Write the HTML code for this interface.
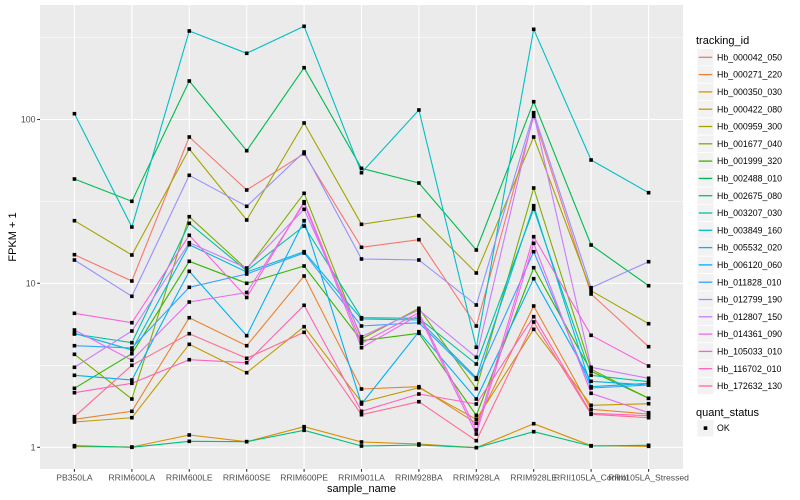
<!DOCTYPE html>
<html><head><meta charset="utf-8"><style>
html,body{margin:0;padding:0;background:#fff;}
svg{display:block;font-family:"Liberation Sans",Arial,sans-serif;}
</style></head><body>
<svg width="800" height="500" viewBox="0 0 800 500" xmlns="http://www.w3.org/2000/svg">
<defs>
<marker id="m" markerUnits="userSpaceOnUse" markerWidth="6" markerHeight="6" refX="3" refY="3" viewBox="0 0 6 6"><rect x="1.2" y="1.2" width="3.6" height="3.6" fill="#000"/></marker>
</defs>
<rect x="0" y="0" width="800" height="500" fill="#fff"/>
<rect x="40" y="5" width="643" height="464" fill="#EBEBEB"/>
<g stroke="#fff" stroke-width="0.55">
<line x1="40" x2="683" y1="37.6" y2="37.6"/><line x1="40" x2="683" y1="201.4" y2="201.4"/><line x1="40" x2="683" y1="365.3" y2="365.3"/>
</g>
<g stroke="#fff" stroke-width="1.1">
<line x1="40" x2="683" y1="119.5" y2="119.5"/><line x1="40" x2="683" y1="283.3" y2="283.3"/><line x1="40" x2="683" y1="447.3" y2="447.3"/>
<line x1="74.45" x2="74.45" y1="5" y2="469"/><line x1="131.86" x2="131.86" y1="5" y2="469"/><line x1="189.27" x2="189.27" y1="5" y2="469"/><line x1="246.7" x2="246.7" y1="5" y2="469"/><line x1="304.1" x2="304.1" y1="5" y2="469"/><line x1="361.5" x2="361.5" y1="5" y2="469"/><line x1="418.9" x2="418.9" y1="5" y2="469"/><line x1="476.3" x2="476.3" y1="5" y2="469"/><line x1="533.7" x2="533.7" y1="5" y2="469"/><line x1="591.1" x2="591.1" y1="5" y2="469"/><line x1="648.6" x2="648.6" y1="5" y2="469"/>
</g>
<g fill="none" stroke-width="1.1" stroke-linejoin="round" id="series">
<polyline stroke="#F8766D" points="74.45,254.7 131.86,281 189.27,137 246.7,190 304.1,153.7 361.5,247.3 418.9,239.7 476.3,326 533.7,116.3 591.1,294 648.6,346.7"/>
<polyline stroke="#EA8331" points="74.45,419.3 131.86,411.3 189.27,317.7 246.7,345.7 304.1,276 361.5,389 418.9,386.7 476.3,423.3 533.7,306 591.1,409.3 648.6,414"/>
<polyline stroke="#D89000" points="74.45,446.7 131.86,447 189.27,435 246.7,441.7 304.1,426.7 361.5,442 418.9,444 476.3,447.7 533.7,423.7 591.1,445.7 648.6,446.3"/>
<polyline stroke="#C09B00" points="74.45,422 131.86,417.7 189.27,344.3 246.7,372.7 304.1,326.7 361.5,402.3 418.9,387.7 476.3,419.3 533.7,329.3 591.1,405.3 648.6,403.7"/>
<polyline stroke="#A3A500" points="74.45,220.7 131.86,255 189.27,149 246.7,220 304.1,123 361.5,224.3 418.9,215.7 476.3,273 533.7,137 591.1,290.7 648.6,323.7"/>
<polyline stroke="#7CAE00" points="74.45,354.3 131.86,399 189.27,216.7 246.7,269.3 304.1,193.3 361.5,339 418.9,308.3 476.3,388.7 533.7,188 591.1,369.3 648.6,398.3"/>
<polyline stroke="#39B600" points="74.45,388.3 131.86,353.7 189.27,261.3 246.7,283.3 304.1,266 361.5,340.7 418.9,333.3 476.3,415.3 533.7,267.7 591.1,371.3 648.6,398.3"/>
<polyline stroke="#00BB4E" points="74.45,179 131.86,201.3 189.27,81 246.7,150.7 304.1,67.7 361.5,168.3 418.9,183 476.3,250 533.7,101.7 591.1,245 648.6,285.7"/>
<polyline stroke="#00BF7D" points="74.45,445.7 131.86,447.3 189.27,441.3 246.7,441.7 304.1,430.3 361.5,446 418.9,445 476.3,447.7 533.7,431.7 591.1,446 648.6,445.3"/>
<polyline stroke="#00C1A3" points="74.45,334 131.86,342.7 189.27,223.3 246.7,270.7 304.1,226 361.5,317.7 418.9,318.3 476.3,364 533.7,209 591.1,375.3 648.6,381.7"/>
<polyline stroke="#00BFC4" points="74.45,113.7 131.86,227 189.27,31 246.7,53.3 304.1,26.3 361.5,172.7 418.9,110 476.3,347.3 533.7,29.3 591.1,160 648.6,192.7"/>
<polyline stroke="#00BAE0" points="74.45,333.3 131.86,350 189.27,244.7 246.7,272 304.1,251.7 361.5,319 418.9,320 476.3,377.7 533.7,205.7 591.1,386.7 648.6,383.3"/>
<polyline stroke="#00B0F6" points="74.45,375.3 131.86,380 189.27,271.3 246.7,335.7 304.1,220.7 361.5,404 418.9,331.7 476.3,399 533.7,278.7 591.1,381.3 648.6,385"/>
<polyline stroke="#35A2FF" points="74.45,345.7 131.86,348 189.27,287.3 246.7,274 304.1,253 361.5,326 418.9,322.7 476.3,379.3 533.7,251.7 591.1,388 648.6,385"/>
<polyline stroke="#9590FF" points="74.45,260 131.86,296.3 189.27,175.3 246.7,206.3 304.1,152 361.5,259 418.9,260 476.3,305 533.7,112.7 591.1,287.7 648.6,261.7"/>
<polyline stroke="#C77CFF" points="74.45,367.3 131.86,331 189.27,242.7 246.7,268 304.1,209.3 361.5,336.7 418.9,310 476.3,357.3 533.7,114 591.1,367.3 648.6,378.3"/>
<polyline stroke="#E76BF3" points="74.45,330 131.86,360.3 189.27,302 246.7,292.5 304.1,203.3 361.5,347.7 418.9,315 476.3,434 533.7,243.3 591.1,393.3 648.6,412.7"/>
<polyline stroke="#FA62DB" points="74.45,313.3 131.86,322.7 189.27,235.3 246.7,297.5 304.1,201.7 361.5,343.3 418.9,312.7 476.3,430 533.7,236.7 591.1,335.3 648.6,366"/>
<polyline stroke="#FF62BC" points="74.45,392.7 131.86,383.3 189.27,359.7 246.7,362.7 304.1,305.3 361.5,411.3 418.9,394 476.3,404 533.7,316.7 591.1,413.3 648.6,415.7"/>
<polyline stroke="#FF6C91" points="74.45,416.7 131.86,365.3 189.27,333.7 246.7,358.3 304.1,332.3 361.5,414.7 418.9,401.7 476.3,440.7 533.7,322 591.1,414.3 648.6,417.7"/>
</g>
<g fill="none" stroke="none" marker-start="url(#m)" marker-mid="url(#m)" marker-end="url(#m)">
<polyline points="74.45,254.7 131.86,281 189.27,137 246.7,190 304.1,153.7 361.5,247.3 418.9,239.7 476.3,326 533.7,116.3 591.1,294 648.6,346.7"/>
<polyline points="74.45,419.3 131.86,411.3 189.27,317.7 246.7,345.7 304.1,276 361.5,389 418.9,386.7 476.3,423.3 533.7,306 591.1,409.3 648.6,414"/>
<polyline points="74.45,446.7 131.86,447 189.27,435 246.7,441.7 304.1,426.7 361.5,442 418.9,444 476.3,447.7 533.7,423.7 591.1,445.7 648.6,446.3"/>
<polyline points="74.45,422 131.86,417.7 189.27,344.3 246.7,372.7 304.1,326.7 361.5,402.3 418.9,387.7 476.3,419.3 533.7,329.3 591.1,405.3 648.6,403.7"/>
<polyline points="74.45,220.7 131.86,255 189.27,149 246.7,220 304.1,123 361.5,224.3 418.9,215.7 476.3,273 533.7,137 591.1,290.7 648.6,323.7"/>
<polyline points="74.45,354.3 131.86,399 189.27,216.7 246.7,269.3 304.1,193.3 361.5,339 418.9,308.3 476.3,388.7 533.7,188 591.1,369.3 648.6,398.3"/>
<polyline points="74.45,388.3 131.86,353.7 189.27,261.3 246.7,283.3 304.1,266 361.5,340.7 418.9,333.3 476.3,415.3 533.7,267.7 591.1,371.3 648.6,398.3"/>
<polyline points="74.45,179 131.86,201.3 189.27,81 246.7,150.7 304.1,67.7 361.5,168.3 418.9,183 476.3,250 533.7,101.7 591.1,245 648.6,285.7"/>
<polyline points="74.45,445.7 131.86,447.3 189.27,441.3 246.7,441.7 304.1,430.3 361.5,446 418.9,445 476.3,447.7 533.7,431.7 591.1,446 648.6,445.3"/>
<polyline points="74.45,334 131.86,342.7 189.27,223.3 246.7,270.7 304.1,226 361.5,317.7 418.9,318.3 476.3,364 533.7,209 591.1,375.3 648.6,381.7"/>
<polyline points="74.45,113.7 131.86,227 189.27,31 246.7,53.3 304.1,26.3 361.5,172.7 418.9,110 476.3,347.3 533.7,29.3 591.1,160 648.6,192.7"/>
<polyline points="74.45,333.3 131.86,350 189.27,244.7 246.7,272 304.1,251.7 361.5,319 418.9,320 476.3,377.7 533.7,205.7 591.1,386.7 648.6,383.3"/>
<polyline points="74.45,375.3 131.86,380 189.27,271.3 246.7,335.7 304.1,220.7 361.5,404 418.9,331.7 476.3,399 533.7,278.7 591.1,381.3 648.6,385"/>
<polyline points="74.45,345.7 131.86,348 189.27,287.3 246.7,274 304.1,253 361.5,326 418.9,322.7 476.3,379.3 533.7,251.7 591.1,388 648.6,385"/>
<polyline points="74.45,260 131.86,296.3 189.27,175.3 246.7,206.3 304.1,152 361.5,259 418.9,260 476.3,305 533.7,112.7 591.1,287.7 648.6,261.7"/>
<polyline points="74.45,367.3 131.86,331 189.27,242.7 246.7,268 304.1,209.3 361.5,336.7 418.9,310 476.3,357.3 533.7,114 591.1,367.3 648.6,378.3"/>
<polyline points="74.45,330 131.86,360.3 189.27,302 246.7,292.5 304.1,203.3 361.5,347.7 418.9,315 476.3,434 533.7,243.3 591.1,393.3 648.6,412.7"/>
<polyline points="74.45,313.3 131.86,322.7 189.27,235.3 246.7,297.5 304.1,201.7 361.5,343.3 418.9,312.7 476.3,430 533.7,236.7 591.1,335.3 648.6,366"/>
<polyline points="74.45,392.7 131.86,383.3 189.27,359.7 246.7,362.7 304.1,305.3 361.5,411.3 418.9,394 476.3,404 533.7,316.7 591.1,413.3 648.6,415.7"/>
<polyline points="74.45,416.7 131.86,365.3 189.27,333.7 246.7,358.3 304.1,332.3 361.5,414.7 418.9,401.7 476.3,440.7 533.7,322 591.1,414.3 648.6,417.7"/>
</g>
<!-- axes ticks -->
<g stroke="#333" stroke-width="1.1">
<line x1="37.2" x2="40" y1="119.5" y2="119.5"/><line x1="37.2" x2="40" y1="283.3" y2="283.3"/><line x1="37.2" x2="40" y1="447.3" y2="447.3"/>
<line x1="74.45" x2="74.45" y1="469" y2="471.8"/><line x1="131.86" x2="131.86" y1="469" y2="471.8"/><line x1="189.27" x2="189.27" y1="469" y2="471.8"/><line x1="246.7" x2="246.7" y1="469" y2="471.8"/><line x1="304.1" x2="304.1" y1="469" y2="471.8"/><line x1="361.5" x2="361.5" y1="469" y2="471.8"/><line x1="418.9" x2="418.9" y1="469" y2="471.8"/><line x1="476.3" x2="476.3" y1="469" y2="471.8"/><line x1="533.7" x2="533.7" y1="469" y2="471.8"/><line x1="591.1" x2="591.1" y1="469" y2="471.8"/><line x1="648.6" x2="648.6" y1="469" y2="471.8"/>
</g>
<g font-size="8.8" fill="#4D4D4D" text-anchor="end">
<text x="35.5" y="122.6">100</text><text x="35.5" y="286.4">10</text><text x="35.5" y="450.4">1</text>
</g>
<g font-size="8.6" fill="#4D4D4D" text-anchor="middle">
<text x="74.45" y="480.5">PB350LA</text><text x="131.86" y="480.5">RRIM600LA</text><text x="189.27" y="480.5">RRIM600LE</text><text x="246.7" y="480.5">RRIM600SE</text><text x="304.1" y="480.5">RRIM600PE</text><text x="361.5" y="480.5">RRIM901LA</text><text x="418.9" y="480.5">RRIM928BA</text><text x="476.3" y="480.5">RRIM928LA</text><text x="533.7" y="480.5">RRIM928LE</text><text x="591.1" y="480.5">RRII105LA_Control</text><text x="648.6" y="480.5">RRII105LA_Stressed</text>
</g>
<text x="361.5" y="492" font-size="11" text-anchor="middle" fill="#000">sample_name</text>
<text transform="translate(16,237) rotate(-90)" font-size="11" text-anchor="middle" fill="#000">FPKM + 1</text>
<!-- legend -->
<text x="696" y="44" font-size="11" fill="#000">tracking_id</text>
<g fill="#F2F2F2" stroke="#fff" stroke-width="0.8">
<rect x="697" y="48.65" width="17" height="17.3"/><rect x="697" y="65.95" width="17" height="17.3"/><rect x="697" y="83.25" width="17" height="17.3"/><rect x="697" y="100.55" width="17" height="17.3"/><rect x="697" y="117.85" width="17" height="17.3"/><rect x="697" y="135.15" width="17" height="17.3"/><rect x="697" y="152.45" width="17" height="17.3"/><rect x="697" y="169.75" width="17" height="17.3"/><rect x="697" y="187.05" width="17" height="17.3"/><rect x="697" y="204.35" width="17" height="17.3"/><rect x="697" y="221.65" width="17" height="17.3"/><rect x="697" y="238.95" width="17" height="17.3"/><rect x="697" y="256.25" width="17" height="17.3"/><rect x="697" y="273.55" width="17" height="17.3"/><rect x="697" y="290.85" width="17" height="17.3"/><rect x="697" y="308.15" width="17" height="17.3"/><rect x="697" y="325.45" width="17" height="17.3"/><rect x="697" y="342.75" width="17" height="17.3"/><rect x="697" y="360.05" width="17" height="17.3"/><rect x="697" y="377.35" width="17" height="17.3"/>
<rect x="697" y="419.5" width="17" height="17.3"/>
</g>
<g stroke-width="1.3">
<line x1="698.7" x2="712.3" y1="57.3" y2="57.3" stroke="#F8766D"/>
<line x1="698.7" x2="712.3" y1="74.6" y2="74.6" stroke="#EA8331"/>
<line x1="698.7" x2="712.3" y1="91.9" y2="91.9" stroke="#D89000"/>
<line x1="698.7" x2="712.3" y1="109.2" y2="109.2" stroke="#C09B00"/>
<line x1="698.7" x2="712.3" y1="126.5" y2="126.5" stroke="#A3A500"/>
<line x1="698.7" x2="712.3" y1="143.8" y2="143.8" stroke="#7CAE00"/>
<line x1="698.7" x2="712.3" y1="161.1" y2="161.1" stroke="#39B600"/>
<line x1="698.7" x2="712.3" y1="178.4" y2="178.4" stroke="#00BB4E"/>
<line x1="698.7" x2="712.3" y1="195.7" y2="195.7" stroke="#00BF7D"/>
<line x1="698.7" x2="712.3" y1="213" y2="213" stroke="#00C1A3"/>
<line x1="698.7" x2="712.3" y1="230.3" y2="230.3" stroke="#00BFC4"/>
<line x1="698.7" x2="712.3" y1="247.6" y2="247.6" stroke="#00BAE0"/>
<line x1="698.7" x2="712.3" y1="264.9" y2="264.9" stroke="#00B0F6"/>
<line x1="698.7" x2="712.3" y1="282.2" y2="282.2" stroke="#35A2FF"/>
<line x1="698.7" x2="712.3" y1="299.5" y2="299.5" stroke="#9590FF"/>
<line x1="698.7" x2="712.3" y1="316.8" y2="316.8" stroke="#C77CFF"/>
<line x1="698.7" x2="712.3" y1="334.1" y2="334.1" stroke="#E76BF3"/>
<line x1="698.7" x2="712.3" y1="351.4" y2="351.4" stroke="#FA62DB"/>
<line x1="698.7" x2="712.3" y1="368.7" y2="368.7" stroke="#FF62BC"/>
<line x1="698.7" x2="712.3" y1="386" y2="386" stroke="#FF6C91"/>
</g>
<g font-size="8.8" fill="#000">
<text x="717" y="60.4">Hb_000042_050</text>
<text x="717" y="77.7">Hb_000271_220</text>
<text x="717" y="95">Hb_000350_030</text>
<text x="717" y="112.3">Hb_000422_080</text>
<text x="717" y="129.6">Hb_000959_300</text>
<text x="717" y="146.9">Hb_001677_040</text>
<text x="717" y="164.2">Hb_001999_320</text>
<text x="717" y="181.5">Hb_002488_010</text>
<text x="717" y="198.8">Hb_002675_080</text>
<text x="717" y="216.1">Hb_003207_030</text>
<text x="717" y="233.4">Hb_003849_160</text>
<text x="717" y="250.7">Hb_005532_020</text>
<text x="717" y="268">Hb_006120_060</text>
<text x="717" y="285.3">Hb_011828_010</text>
<text x="717" y="302.6">Hb_012799_190</text>
<text x="717" y="319.9">Hb_012807_150</text>
<text x="717" y="337.2">Hb_014361_090</text>
<text x="717" y="354.5">Hb_105033_010</text>
<text x="717" y="371.8">Hb_116702_010</text>
<text x="717" y="389.1">Hb_172632_130</text>
<text x="717" y="431.2">OK</text>
</g>
<text x="696" y="416" font-size="11" fill="#000">quant_status</text>
<rect x="703.7" y="426.3" width="3.6" height="3.6" fill="#000"/>
</svg>
</body></html>
